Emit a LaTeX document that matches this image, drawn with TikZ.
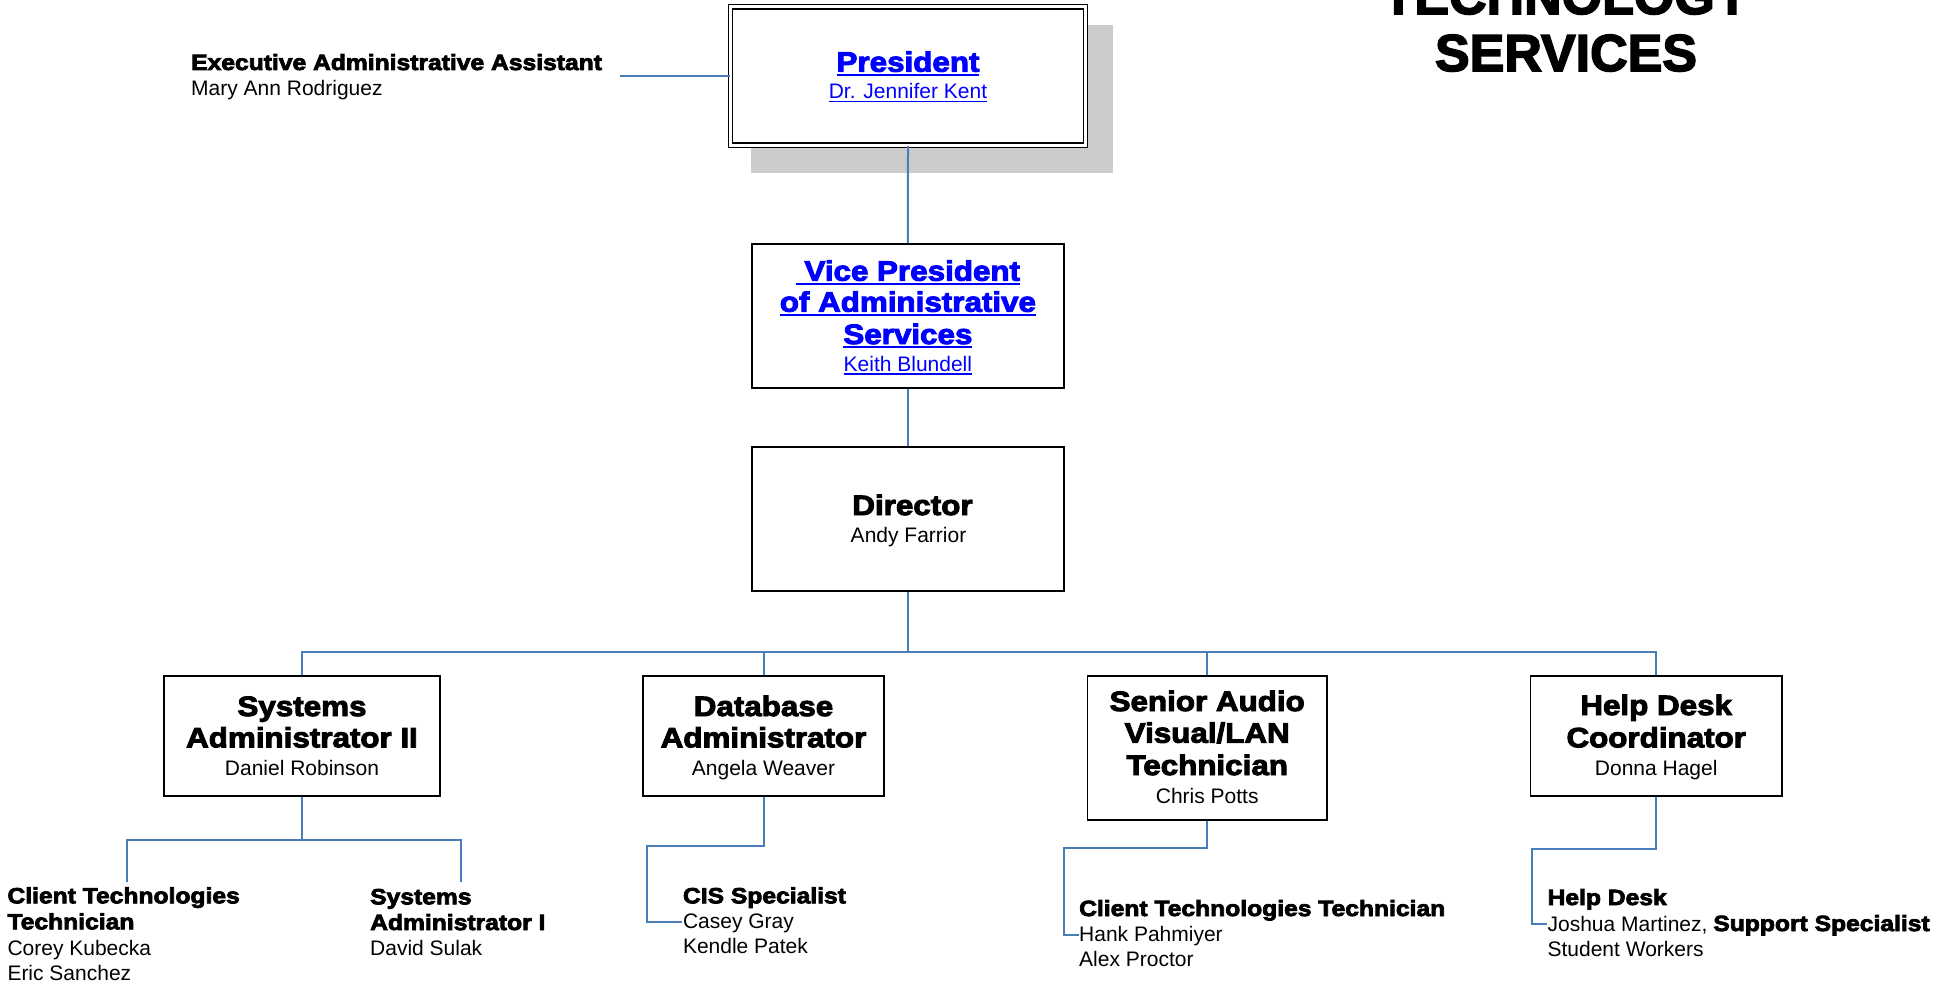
\documentclass[tikz,border=0pt]{standalone}
\usepackage{fontspec}
\setmainfont{Liberation Sans}
\newfontfamily\blk{Liberation Sans}[FakeStretch=1.12,FakeBold=3.5]
\newfontfamily\hdfam{Liberation Sans}[FakeBold=3]
\definecolor{conncol}{HTML}{4A7EBB}
\definecolor{linkblue}{HTML}{0000FF}
\newcommand\ttlfont{\blk\bfseries\fontsize{28}{32}\selectfont}
\newcommand\subfont{\blk\bfseries\fontsize{22}{26}\selectfont}
\newcommand\nmfont{\fontsize{21}{25}\selectfont}
\newcommand\headfont{\hdfam\bfseries\fontsize{52}{57}\selectfont}
\newcommand\bigul[1]{\setbox0=\hbox{#1}\rlap{\rule[-4pt]{\wd0}{1.8pt}}\box0}
\newcommand\smallul[1]{\setbox0=\hbox{#1}\rlap{\rule[-3pt]{\wd0}{1.3pt}}\box0}
\tikzset{
  orgbox/.style={draw=black, line width=1.8pt, fill=white, inner sep=0pt},
  conn/.style={draw=conncol, line width=2pt},
  ttl/.style={font=\ttlfont, anchor=base, inner sep=0pt},
  nm/.style={font=\nmfont, anchor=base, inner sep=0pt},
  sublbl/.style={font=\subfont, anchor=base west, inner sep=0pt},
  subnm/.style={font=\nmfont, anchor=base west, inner sep=0pt},
  head/.style={font=\headfont, anchor=base, inner sep=0pt},
  link/.style={text=linkblue},
}
\begin{document}
\begin{tikzpicture}[x=1pt,y=-1pt]
\useasboundingbox (0,0) rectangle (1944,987);
\fill[white] (0,0) rectangle (1944,987);

% title
\node[head] (title1) at (1566,14) {TECHNOLOGY};
\node[head] (title2) at (1566,71) {SERVICES};

% executive assistant
\node[sublbl] (ea1) at (191,70) {Executive Administrative Assistant};
\node[subnm] (ea2) at (191,96) {Mary Ann Rodriguez};
\coordinate (eaend) at (620,76);

% president
\fill[black!20] (751,25) rectangle (1113,172.7);
\node[draw=black, line width=1.5pt, double=white, double distance=2.7pt, fill=white, inner sep=0pt,
      minimum width=354.9pt, minimum height=138.6pt] (pres) at (908,76) {};
\node[ttl, link] (pres1) at (908,71.7) {\bigul{President}};
\node[nm, link] (pres2) at (908,99) {\smallul{Dr. Jennifer Kent}};

% vice president
\node[orgbox, minimum width=312.3pt, minimum height=143.7pt] (vp) at (907.9,315.9) {};
\node[ttl, link] (vp1) at (907.9,280.7) {\bigul{\ Vice President}};
\node[ttl, link] (vp2) at (907.9,311.7) {\bigul{of Administrative}};
\node[ttl, link] (vp3) at (907.9,344) {\bigul{Services}};
\node[nm, link] (vp4) at (907.9,371.7) {\smallul{Keith Blundell}};

% director
\node[orgbox, minimum width=312.3pt, minimum height=144pt] (dir) at (907.9,519) {};
\node[ttl] (dir1) at (912.5,515) {Director};
\node[nm] (dir2) at (908.5,542.7) {Andy Farrior};

% second level boxes
\node[orgbox, minimum width=276pt, minimum height=120pt] (sa2) at (302,735.7) {};
\node[ttl] (sa2a) at (302,716) {Systems};
\node[ttl] (sa2b) at (302,747.3) {Administrator II};
\node[nm] (sa2c) at (302,775) {Daniel Robinson};

\node[orgbox, minimum width=240.6pt, minimum height=120pt] (db) at (763.5,735.7) {};
\node[ttl] (dba) at (763.5,716) {Database};
\node[ttl] (dbb) at (763.5,747.3) {Administrator};
\node[nm] (dbc) at (763.5,775) {Angela Weaver};

\node[orgbox, minimum width=239.6pt, minimum height=144.3pt] (sav) at (1207.2,747.9) {};
\node[ttl] (sava) at (1207.2,711) {Senior Audio};
\node[ttl] (savb) at (1207.2,742.7) {Visual/LAN};
\node[ttl] (savc) at (1207.2,775) {Technician};
\node[nm] (savd) at (1207.2,803.3) {Chris Potts};

\node[orgbox, minimum width=251.6pt, minimum height=120pt] (hd) at (1656.2,735.7) {};
\node[ttl] (hda) at (1656.2,715) {Help Desk};
\node[ttl] (hdb) at (1656.2,747.3) {Coordinator};
\node[nm] (hdc) at (1656.2,775) {Donna Hagel};

% third level texts
\node[sublbl] (ct1) at (7.3,903.3) {Client Technologies};
\node[sublbl] (ct2) at (7.3,929.3) {Technician};
\node[subnm] (ct3) at (7.3,955) {Corey Kubecka};
\node[subnm] (ct4) at (7.3,980.5) {Eric Sanchez};

\node[sublbl] (sa1a) at (370,904.3) {Systems};
\node[sublbl] (sa1b) at (370,930) {Administrator I};
\node[subnm] (sa1c) at (370,955) {David Sulak};

\node[sublbl] (cis1) at (682.8,903.3) {CIS Specialist};
\node[subnm] (cis2) at (682.8,928.3) {Casey Gray};
\node[subnm] (cis3) at (682.8,953.3) {Kendle Patek};

\node[sublbl] (cl1) at (1079,916) {Client Technologies Technician};
\node[subnm] (cl2) at (1079,941.7) {Hank Pahmiyer};
\node[subnm] (cl3) at (1079,966.7) {Alex Proctor};

\node[sublbl] (hs1) at (1547.4,905) {Help Desk};
\node[subnm] (hs2) at (1547.4,931) {Joshua Martinez, {\subfont Support Specialist}};
\node[subnm] (hs3) at (1547.4,956) {Student Workers};

% connectors
\draw[conn] (eaend) -- (pres.west);
\draw[conn] (pres.south) -- (vp.north);
\draw[conn] (vp.south) -- (dir.north);
\coordinate (bus) at (907.9,651.7);
\draw[conn] (dir.south) -- (bus);
\draw[conn] (sa2.north) |- (bus) -| (hd.north);
\draw[conn] (db.north) -- (db.north |- bus);
\draw[conn] (sav.north) -- (sav.north |- bus);

\coordinate (sa2bar) at (302,840);
\coordinate (ctend) at (126.8,881.7);
\coordinate (sa1end) at (460.5,881.7);
\draw[conn] (sa2.south) -- (sa2bar);
\draw[conn] (ctend) |- (sa2bar) -| (sa1end);

\coordinate (dbturn) at (646.7,846);
\coordinate (dbend) at (681.6,921.7);
\draw[conn] (db.south) |- (dbturn) |- (dbend);

\coordinate (savturn) at (1064.2,847.7);
\coordinate (savend) at (1078.5,934.7);
\draw[conn] (sav.south) |- (savturn) |- (savend);

\coordinate (hdturn) at (1532.3,848.7);
\coordinate (hdend) at (1547,923.7);
\draw[conn] (hd.south) |- (hdturn) |- (hdend);
\end{tikzpicture}
\end{document}
